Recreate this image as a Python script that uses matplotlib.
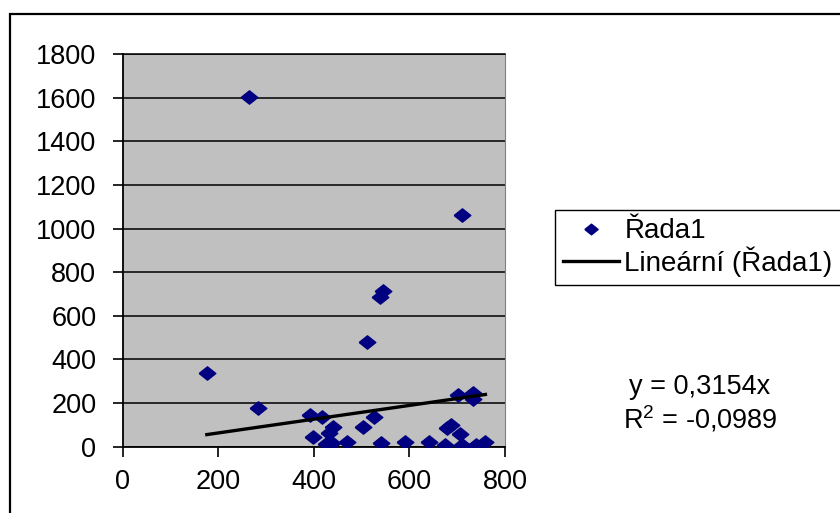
import numpy as np
import matplotlib
matplotlib.use("Agg")
import matplotlib.pyplot as plt
from matplotlib.patches import Rectangle

plt.rcParams['font.family'] = ['Liberation Sans', 'DejaVu Sans']
plt.rcParams['mathtext.fontset'] = 'custom'
plt.rcParams['mathtext.rm'] = 'Liberation Sans'
plt.rcParams['mathtext.it'] = 'Liberation Sans'

# data
x_vals = [265, 176, 283, 391, 418, 399, 441, 432, 426, 438, 470, 502, 525, 511, 538,
          545, 540, 591, 642, 675, 678, 688, 706, 709, 711, 701, 734, 734, 740, 759]
y_vals = [1604, 339, 177, 144, 134, 43, 92, 62, 13, 17, 23, 92, 134, 482, 688,
          715, 15, 23, 23, 6, 84, 99, 57, 10, 1062, 237, 247, 217, 8, 23]
slope = 0.3154
r2_text = "-0,0989"
series_name = "Řada1"
trend_name = "Lineární (Řada1)"
x_ticks = [0, 200, 400, 600, 800]
y_ticks = [0, 200, 400, 600, 800, 1000, 1200, 1400, 1600, 1800]

W, H = 840, 513
fig = plt.figure(figsize=(W / 100, H / 100), dpi=100)
ax = fig.add_axes([122.7 / W, 1 - 446.7 / H, (505 - 122.7) / W, (446.7 - 54) / H])
ax.set_facecolor('#c0c0c0')

fs = 19.5

diamond = [(-1, 0), (0, 0.8), (1, 0), (0, -0.8), (-1, 0)]
ax.plot(x_vals, y_vals, linestyle='none', marker=diamond, markersize=12,
        color='#000080', label=series_name, zorder=3)

xs = np.array([min(x_vals), max(x_vals)])
ax.plot(xs, slope * xs, color='black', linewidth=2.4, label=trend_name, zorder=4)

ax.set_xlim(0, 800)
ax.set_ylim(0, 1800)
ax.set_xticks(x_ticks)
ax.set_yticks(y_ticks)
ax.yaxis.grid(True, color='black', linewidth=1.1)
ax.set_axisbelow(True)
ax.tick_params(axis='both', direction='out', length=7, width=1.2, labelsize=fs, color='black')
ax.tick_params(axis='y', pad=12)
ax.tick_params(axis='x', pad=9)
ax.spines['left'].set_linewidth(1.3)
ax.spines['bottom'].set_linewidth(1.3)
ax.spines['right'].set_color('#808080')
ax.spines['top'].set_color('black')
ax.spines['top'].set_linewidth(1.1)

leg = ax.legend(loc='upper left', bbox_to_anchor=(555 / W, 1 - 210 / H),
                bbox_transform=fig.transFigure, borderaxespad=0, fontsize=20,
                frameon=True, fancybox=False, edgecolor='black', framealpha=1,
                handlelength=2.0, handletextpad=0.2, borderpad=0.3,
                labelspacing=0.08, markerscale=0.8)
leg.get_frame().set_linewidth(1.0)

fig.text(700 / W, 1 - 387 / H, "y = " + f"{slope:.4f}".replace(".", ",") + "x",
         ha='center', va='center', fontsize=fs)
fig.text(700 / W, 1 - 419 / H, "R$^2$ = " + r2_text, ha='center', va='center', fontsize=fs)

fig.patches.append(Rectangle((10 / W, -0.1), 1.2, 1 - 14 / H + 0.1, transform=fig.transFigure,
                             fill=False, edgecolor='black', linewidth=1.6))

fig.savefig("out.png", dpi=100)
